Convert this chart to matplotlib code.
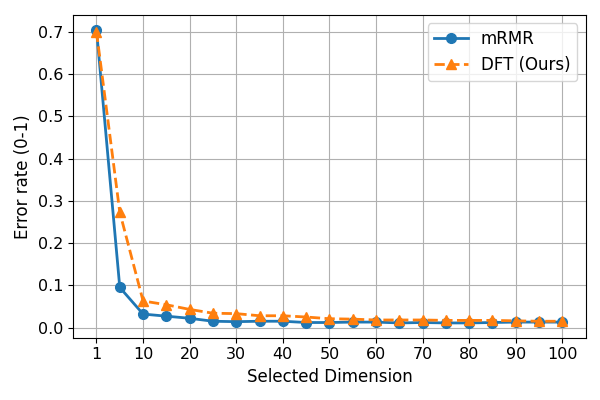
import numpy as np
from matplotlib import pyplot as plt

dims = [1, 5, 10, 15, 20, 25, 30, 35, 40, 45, 50,
        55, 60, 65, 70, 75, 80, 85, 90, 95, 100]
mrmr = [0.705, 0.095, 0.032, 0.027, 0.022, 0.015, 0.014, 0.015, 0.015, 0.012, 0.012,
        0.013, 0.013, 0.011, 0.012, 0.011, 0.011, 0.012, 0.013, 0.013, 0.013]
dft = [0.700, 0.273, 0.063, 0.054, 0.043, 0.034, 0.033, 0.028, 0.028, 0.025, 0.021,
       0.020, 0.018, 0.018, 0.018, 0.017, 0.017, 0.017, 0.016, 0.015, 0.015]
tick_labels = ["1", "10", "20", "30", "40", "50", "60", "70", "80", "90", "100"]

plt.rcParams['font.size'] = 12
plt.rcParams['xtick.labelsize'] = 11.5
plt.rcParams['ytick.labelsize'] = 11.5
fig, ax = plt.subplots(figsize=(6, 4), dpi=100)
x = np.arange(len(dims))
ax.plot(x, mrmr, '-o', linewidth=2, markersize=7, label="mRMR")
ax.plot(x, dft, '--^', linewidth=2, markersize=7, label="DFT (Ours)")
ax.set_xticks(x[[0] + list(range(2, len(dims), 2))])
ax.set_xticklabels(tick_labels)
ax.set_xlabel("Selected Dimension")
ax.set_ylabel("Error rate (0-1)")
ax.grid(True)
ax.legend(loc='upper right')
fig.subplots_adjust(left=0.122, right=0.976, top=0.9625, bottom=0.156)
fig.savefig("out.png")
